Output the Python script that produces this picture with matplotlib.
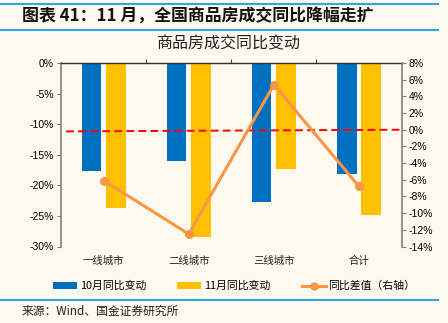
import matplotlib.pyplot as plt
import numpy as np
from matplotlib.lines import Line2D
from matplotlib.patches import Patch

CJK = ["Noto Sans CJK SC", "DejaVu Sans"]
plt.rcParams["font.family"] = ["Liberation Sans", "Noto Sans CJK SC", "DejaVu Sans"]

# data
categories = ["一线城市", "二线城市", "三线城市", "合计"]
oct_yoy = [-17.6, -16.0, -22.7, -18.1]      # 10月同比变动, %
nov_yoy = [-23.7, -28.5, -17.3, -24.9]      # 11月同比变动, %
yoy_diff = [-6.1, -12.5, 5.4, -6.8]         # 同比差值 (右轴), %
guide_line = [-0.2, 0.0]                    # red dashed guide on the right axis
left_ticks = list(range(0, -31, -5))
right_ticks = list(range(8, -15, -2))

BG = "#FEF9EF"
BLUE = "#0070C0"
YELLOW = "#FFC000"
ORANGE = "#F79646"
HEADER = "#29A9E0"

W, H = 448, 323
fig = plt.figure(figsize=(W / 100, H / 100), dpi=100, facecolor=BG)

# plot frame in pixels: left 61, right 401.6, top 63, bottom 246.5
ax = fig.add_axes([61 / W, 1 - 246.5 / H, (401.6 - 61) / W, (246.5 - 63) / H])
ax.set_facecolor(BG)

x = np.arange(len(categories))
bw = 0.23
ax.bar(x - 0.143, oct_yoy, bw, color=BLUE, zorder=2)
ax.bar(x + 0.143, nov_yoy, bw, color=YELLOW, zorder=2)

ax.set_xlim(-0.5, 3.5)
ax.set_ylim(-30, 0)
ax.set_yticks(left_ticks)
ax.set_yticklabels([f"{t}%" for t in left_ticks], fontsize=7.5)
ax.tick_params(axis="y", direction="out", length=3, color="#808080", pad=2)

ax.xaxis.set_ticks_position("top")
ax.set_xticks([0.5, 1.5, 2.5])
ax.set_xticklabels([])
ax.tick_params(axis="x", direction="out", length=3, color="#404040")

for s in ["bottom", "right"]:
    ax.spines[s].set_visible(False)
ax.spines["top"].set_color("#303030")
ax.spines["top"].set_linewidth(1.0)
ax.spines["left"].set_color("#808080")
ax.spines["left"].set_linewidth(1.2)

for xi, name in zip(x, categories):
    ax.text(xi, -0.08, name, transform=ax.get_xaxis_transform(), ha="center",
            va="center", fontsize=7.5, family=CJK, color="#222222")

ax2 = ax.twinx()
ax2.set_ylim(-14, 8)
ax2.set_yticks(right_ticks)
ax2.set_yticklabels([f"{t}%" for t in right_ticks], fontsize=7.5)
ax2.tick_params(axis="y", direction="out", length=3, color="#808080", pad=2)
for s in ["top", "bottom", "left"]:
    ax2.spines[s].set_visible(False)
ax2.spines["right"].set_color("#808080")
ax2.spines["right"].set_linewidth(1.2)

ax2.plot([-0.44, 3.5], guide_line, color="#FF0000", ls="--", lw=1.4,
         dashes=(4, 2.2), zorder=3)
ax2.plot(x, yoy_diff, color=ORANGE, lw=2.2, marker="o", ms=5.5, zorder=4)

handles = [
    Patch(facecolor=BLUE, label="10月同比变动"),
    Patch(facecolor=YELLOW, label="11月同比变动"),
    Line2D([], [], color=ORANGE, lw=2.2, marker="o", ms=5, label="同比差值（右轴）"),
]
fig.legend(handles=handles, loc="center left", bbox_to_anchor=(53 / W, 1 - 286 / H),
           ncol=3, frameon=False, prop={"family": CJK, "size": 7.8},
           handlelength=2.2, handleheight=0.55, handletextpad=0.25,
           columnspacing=2.9, borderaxespad=0, borderpad=0)

# header / footer decorations
for yy in [4, 30, 300]:
    fig.add_artist(Line2D([0, 438 / W], [1 - yy / H] * 2, transform=fig.transFigure,
                          color=HEADER, lw=1.5))

fig.text(22 / W, 1 - 17 / H, "图表 41：11 月，全国商品房成交同比降幅走扩",
         family=CJK, fontsize=12.2, fontweight="bold", style="italic",
         va="center", ha="left", color="#111111")
fig.text(228 / W, 1 - 44 / H, "商品房成交同比变动", family=CJK, fontsize=11.5,
         va="center", ha="center", color="#222222")
fig.text(22 / W, 1 - 311 / H, "来源：Wind、国金证券研究所", family=CJK, fontsize=8.5,
         va="center", ha="left", color="#222222")

fig.savefig("out.png", dpi=100, facecolor=BG)
